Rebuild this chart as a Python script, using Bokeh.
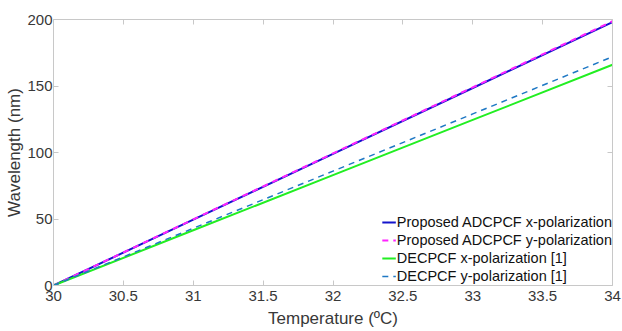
from bokeh.plotting import figure
from bokeh.models import LinearAxis, FixedTicker, Legend, LegendItem, Range1d
from bokeh.embed import file_html
from bokeh.resources import INLINE

# Temperature (°C) and wavelength shift (nm)
temperature = [30, 31, 32, 33, 34]
adcpcf_x = [0, 49.5, 99.0, 148.5, 198.0]
adcpcf_y = [0, 49.7, 99.3, 149.0, 198.7]
decpcf_x = [0, 41.5, 83.0, 124.5, 166.0]
decpcf_y = [0, 43.0, 86.0, 129.0, 172.0]

x_ticks = [30, 30.5, 31, 31.5, 32, 32.5, 33, 33.5, 34]
y_ticks = [0, 50, 100, 150, 200]

FONT = "Liberation Sans"
AXIS_GRAY = "#c8c8c8"
TEXT_GRAY = "#383838"

p = figure(width=622, height=331, output_backend="svg", toolbar_location=None,
           x_range=Range1d(30, 34), y_range=Range1d(0, 200),
           min_border_left=53, min_border_right=10, min_border_top=19, min_border_bottom=46,
           x_axis_label="Temperature (ºC)", y_axis_label="Wavelength (nm)")
p.grid.visible = False
p.outline_line_color = None
p.background_fill_color = "white"
p.border_fill_color = "white"

for ax in (p.xaxis[0], p.yaxis[0]):
    ax.axis_line_color = AXIS_GRAY
    ax.major_tick_line_color = AXIS_GRAY
    ax.major_tick_in = 5
    ax.major_tick_out = 0
    ax.minor_tick_line_color = None
    ax.major_label_text_font = FONT
    ax.major_label_text_font_size = "15px"
    ax.major_label_text_color = TEXT_GRAY
    ax.axis_label_text_font = FONT
    ax.axis_label_text_font_size = "17px"
    ax.axis_label_text_font_style = "normal"
    ax.axis_label_text_color = TEXT_GRAY
p.xaxis[0].ticker = FixedTicker(ticks=x_ticks)
p.yaxis[0].ticker = FixedTicker(ticks=y_ticks)
p.xaxis[0].major_label_standoff = 5
p.xaxis[0].axis_label_standoff = 5
p.yaxis[0].major_label_standoff = 1
p.yaxis[0].axis_label_standoff = 0

# box frame: top and right axes carry ticks only, labels blanked
blank_x = {t: "" for t in x_ticks}
blank_y = {t: "" for t in y_ticks}
top = LinearAxis(ticker=FixedTicker(ticks=x_ticks), major_label_overrides=blank_x,
                 axis_line_color=AXIS_GRAY, major_tick_line_color=AXIS_GRAY,
                 major_tick_in=5, major_tick_out=0, minor_tick_line_color=None,
                 major_label_standoff=0, major_label_text_font_size="2px")
right = LinearAxis(ticker=FixedTicker(ticks=y_ticks), major_label_overrides=blank_y,
                   axis_line_color=AXIS_GRAY, major_tick_line_color=AXIS_GRAY,
                   major_tick_in=5, major_tick_out=0, minor_tick_line_color=None,
                   major_label_standoff=0, major_label_text_font_size="2px")
p.add_layout(top, "above")
p.add_layout(right, "right")

r1 = p.line(temperature, adcpcf_x, line_color="#1414cc", line_width=2)
r2 = p.line(temperature, adcpcf_y, line_color="#ff22ff", line_width=2, line_dash="6 5")
r3 = p.line(temperature, decpcf_x, line_color="#22ee22", line_width=2)
r4 = p.line(temperature, decpcf_y, line_color="#1f78c4", line_width=1.5, line_dash="6 5")

legend = Legend(items=[
    LegendItem(label="Proposed ADCPCF x-polarization", renderers=[r1]),
    LegendItem(label="Proposed ADCPCF y-polarization", renderers=[r2]),
    LegendItem(label="DECPCF x-polarization [1]", renderers=[r3]),
    LegendItem(label="DECPCF y-polarization [1]", renderers=[r4]),
], location="bottom_right")
legend.border_line_color = None
legend.background_fill_alpha = 1
legend.label_text_font = FONT
legend.label_text_font_size = "14.5px"
legend.label_text_color = "#111111"
legend.glyph_width = 14
legend.glyph_height = 18
legend.label_height = 18
legend.label_standoff = 1
legend.spacing = 0
legend.padding = 2
legend.margin = 0
p.add_layout(legend)

open("out.html", "w").write(file_html(p, INLINE))
